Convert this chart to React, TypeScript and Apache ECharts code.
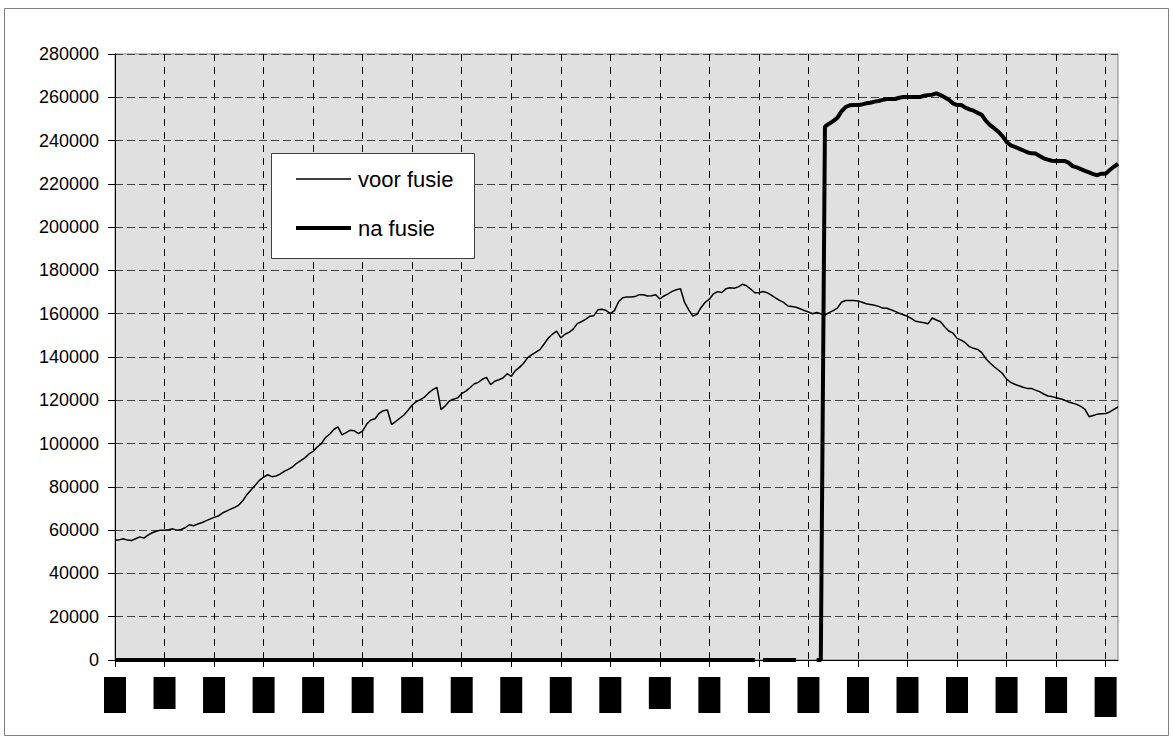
import React, { useEffect, useRef } from "react";
import * as echarts from "echarts";

// ---- data ----
const MONTHS = ["jan", "feb", "mrt", "apr", "mei", "jun", "jul", "aug", "sep", "okt", "nov", "dec"];
const YEARS = [
  "80", "81", "82", "83", "84", "85", "86", "87", "88", "89", "90",
  "91", "92", "93", "94", "95", "96", "97", "98", "99", "00",
];
// one category per month, 244 months
const CATEGORIES: string[] = [];
for (let y = 0; y < YEARS.length; y++) {
  for (let m = 0; m < 12; m++) {
    if (CATEGORIES.length < 244) CATEGORIES.push(MONTHS[m] + "-" + YEARS[y]);
  }
}

const VOOR_FUSIE = [
  55400, 55500, 56000, 55400, 55200, 56000, 56900, 56300, 57700, 58800, 59500, 60000,
  60000, 60200, 60600, 60000, 60300, 61100, 62500, 62000, 62800, 63400, 64300, 65100,
  65900, 66500, 67900, 68800, 69700, 70500, 71600, 73700, 76500, 78700, 80800, 83000,
  84500, 85600, 84700, 85000, 85900, 87200, 88100, 89200, 90900, 92100, 93400, 95200,
  96400, 98400, 100000, 102800, 104300, 106500, 107700, 104000, 105100, 106200, 105900, 104600,
  105900, 109000, 110900, 111500, 114000, 115200, 115500, 108800, 110200, 111700, 113200, 115400,
  117800, 119400, 120300, 121500, 123400, 124900, 126000, 115700, 117400, 119700, 120500, 121100,
  123100, 124200, 125800, 127500, 128300, 129700, 130600, 127200, 128800, 129500, 130300, 132300,
  131100, 133700, 135200, 137100, 139700, 141100, 142300, 143500, 146100, 148800, 150600, 152000,
  148800, 150500, 151400, 152900, 155400, 156300, 157400, 158800, 159100, 161800, 162100, 161500,
  160000, 161400, 165500, 167400, 167700, 167700, 167900, 168800, 168800, 168200, 168300, 168800,
  166800, 168200, 169200, 170300, 171100, 171500, 165200, 161800, 158900, 159700, 162900, 165300,
  166700, 169200, 170200, 169800, 171500, 172000, 171800, 172400, 173600, 172900, 171400, 169700,
  169700, 170300, 169700, 168600, 167300, 166200, 165200, 163600, 163300, 163000, 162300, 161500,
  160800, 160000, 160600, 160000, 159400, 160500, 161400, 162600, 165300, 166100, 166100, 166100,
  165900, 165300, 164600, 164300, 163900, 163400, 162600, 162500, 161800, 161100, 160200, 159500,
  158800, 157700, 156500, 156200, 155800, 155400, 158000, 157100, 156300, 154000, 152000, 151100,
  148600, 147800, 146600, 144800, 144000, 143500, 142000, 139200, 137200, 135500, 134000, 132400,
  129800, 128300, 127400, 126700, 126000, 125500, 125500, 124700, 124000, 122900, 122000, 121700,
  121200, 120700, 120100, 119200, 118700, 118100, 117200, 115800, 112400, 113000, 113600, 113800,
  113900, 114600, 115800, 116900,
];

const NA_FUSIE: (number | null)[] = [
  0, 0, 0, 0, 0, 0, 0, 0, 0, 0, 0, 0,
  0, 0, 0, 0, 0, 0, 0, 0, 0, 0, 0, 0,
  0, 0, 0, 0, 0, 0, 0, 0, 0, 0, 0, 0,
  0, 0, 0, 0, 0, 0, 0, 0, 0, 0, 0, 0,
  0, 0, 0, 0, 0, 0, 0, 0, 0, 0, 0, 0,
  0, 0, 0, 0, 0, 0, 0, 0, 0, 0, 0, 0,
  0, 0, 0, 0, 0, 0, 0, 0, 0, 0, 0, 0,
  0, 0, 0, 0, 0, 0, 0, 0, 0, 0, 0, 0,
  0, 0, 0, 0, 0, 0, 0, 0, 0, 0, 0, 0,
  0, 0, 0, 0, 0, 0, 0, 0, 0, 0, 0, 0,
  0, 0, 0, 0, 0, 0, 0, 0, 0, 0, 0, 0,
  0, 0, 0, 0, 0, 0, 0, 0, 0, 0, 0, 0,
  0, 0, 0, 0, 0, 0, 0, 0, 0, 0, 0, 0,
  null, 0, 0, 0, 0, 0, 0, 0, 0, 0, null, null,
  null, null, 0, 0, 246400, 247800, 249000, 250500, 253500, 255500, 256300, 256400,
  256400, 256700, 257200, 257500, 258000, 258300, 258800, 259200, 259200, 259200, 259800, 260100,
  260100, 260100, 260100, 260100, 260700, 261000, 261200, 261800, 261000, 260000, 258900, 257200,
  256400, 256400, 255300, 254400, 253800, 252800, 251900, 249100, 247100, 245700, 244100, 242100,
  239400, 237800, 237100, 236300, 235500, 234600, 234100, 234000, 232900, 231800, 231200, 230700,
  230600, 230600, 230600, 229800, 228200, 227600, 226800, 226000, 225300, 224500, 224000, 224700,
  224700, 226400, 227900, 229200,
];

const SERIES_NAMES = ["voor fusie", "na fusie"];

// ---- style ----
const FONT = "'Liberation Sans', Arial, sans-serif";
const THIN = 1.5;
const THICK = 4;
// redacted label boxes: length per labelled tick
const LABEL_BOX_KEY = [
  "a", "b", "a", "a", "a", "a", "a", "a", "a", "a", "a",
  "b", "a", "a", "a", "a", "a", "a", "a", "a", "c",
];

export default function App() {
  const ref = useRef<HTMLDivElement>(null);

  useEffect(() => {
    if (!ref.current) return;
    const chart = echarts.init(ref.current, undefined, { renderer: "svg" });
    const boxBase = {
      height: 22,
      lineHeight: 22,
      backgroundColor: "#000",
      color: "#000",
      fontSize: 10,
      fontFamily: FONT,
      align: "center" as const,
    };
    const LX = 271;
    const LY = 153;
    const legendText = (name: string, y: number) => ({
      type: "text",
      x: LX + 87,
      y: LY + y,
      z: 101,
      style: {
        text: name,
        fontSize: 22,
        fontFamily: FONT,
        fill: "#000",
        verticalAlign: "middle",
        align: "left",
      },
    });
    chart.setOption({
      animation: false,
      backgroundColor: "#fff",
      textStyle: { fontFamily: FONT },
      graphic: [
        {
          type: "rect",
          shape: { x: 4.5, y: 8.5, width: 1164, height: 727 },
          style: { fill: "none", stroke: "#808080", lineWidth: 1 },
          z: -1,
          silent: true,
        },
        {
          type: "rect",
          shape: { x: LX + 0.5, y: LY + 0.5, width: 203, height: 105 },
          style: { fill: "#fff", stroke: "#404040", lineWidth: 1 },
          z: 100,
        },
        {
          type: "line",
          shape: { x1: LX + 25, y1: LY + 26, x2: LX + 80, y2: LY + 26 },
          style: { stroke: "#000", lineWidth: THIN },
          z: 101,
        },
        legendText(SERIES_NAMES[0], 26),
        {
          type: "line",
          shape: { x1: LX + 25, y1: LY + 75, x2: LX + 80, y2: LY + 75 },
          style: { stroke: "#000", lineWidth: THICK },
          z: 101,
        },
        legendText(SERIES_NAMES[1], 75),
      ],
      grid: {
        left: 115,
        top: 54,
        right: 55,
        bottom: 82,
        show: true,
        backgroundColor: "#e0e0e0",
        borderColor: "#808080",
        borderWidth: 1,
        containLabel: false,
      },
      xAxis: {
        type: "category",
        data: CATEGORIES,
        boundaryGap: false,
        axisLine: { show: true, lineStyle: { color: "#000", width: 1 } },
        axisTick: { show: true, interval: 11, length: 7, lineStyle: { color: "#000" } },
        axisLabel: {
          show: true,
          interval: 11,
          rotate: 90,
          margin: 17,
          formatter: (value: string, index: number) => {
            const k = Math.round(index / 12);
            const key = LABEL_BOX_KEY[k] || "a";
            return "{" + key + "|" + value + "}";
          },
          rich: {
            a: { ...boxBase, width: 36 },
            b: { ...boxBase, width: 32 },
            c: { ...boxBase, width: 40 },
          },
        },
        splitLine: {
          show: true,
          interval: 11,
          lineStyle: { color: "#000", width: 1, type: [7, 6] },
        },
      },
      yAxis: {
        type: "value",
        min: 0,
        max: 280000,
        interval: 20000,
        axisLine: { show: true, lineStyle: { color: "#000", width: 1 } },
        axisTick: { show: true, length: 7, lineStyle: { color: "#000" } },
        axisLabel: {
          fontSize: 18,
          color: "#000",
          margin: 16,
          fontFamily: FONT,
          formatter: (v: number) => String(v),
        },
        splitLine: {
          show: true,
          lineStyle: { color: "#444", width: 1, type: [8, 4] },
        },
      },
      series: [
        {
          name: SERIES_NAMES[0],
          type: "line",
          data: VOOR_FUSIE,
          showSymbol: false,
          symbol: "none",
          lineStyle: { color: "#000", width: THIN },
          itemStyle: { color: "#000" },
          z: 3,
        },
        {
          name: SERIES_NAMES[1],
          type: "line",
          data: NA_FUSIE,
          showSymbol: false,
          symbol: "none",
          connectNulls: false,
          lineStyle: { color: "#000", width: THICK },
          itemStyle: { color: "#000" },
          z: 4,
        },
      ],
    });
    return () => chart.dispose();
  }, []);

  return (
    <div
      ref={ref}
      style={{ position: "fixed", left: 0, top: 0, width: 1173, height: 742, background: "#fff" }}
    />
  );
}
